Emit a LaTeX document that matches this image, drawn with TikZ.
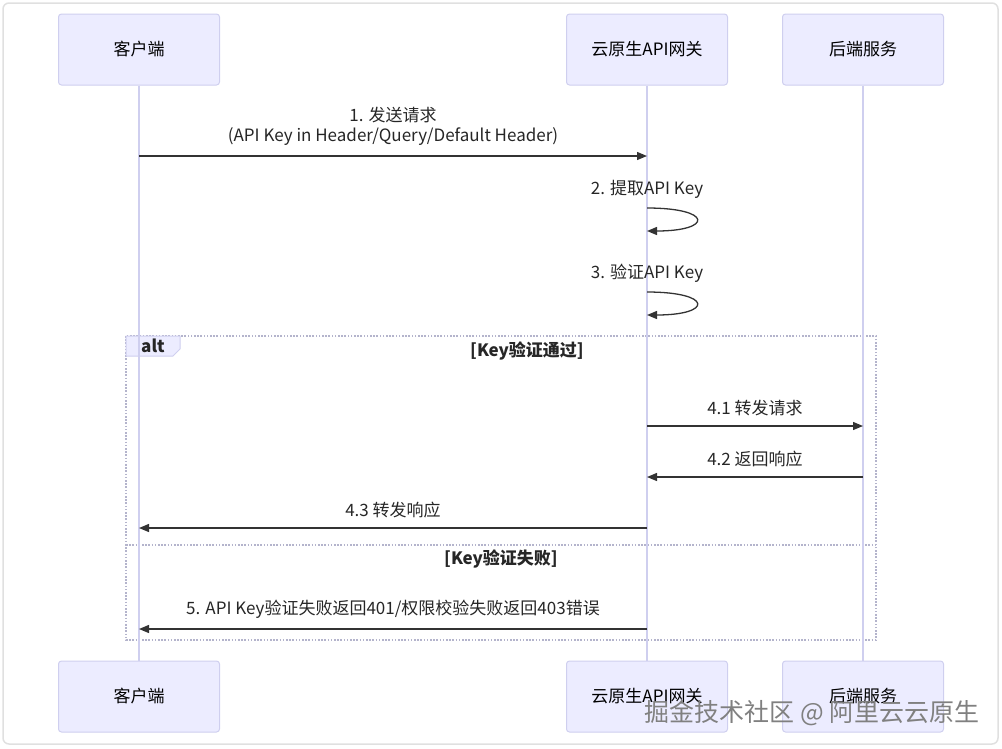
\documentclass[tikz,border=0pt]{standalone}
\usepackage{fontspec}
\setmainfont{Noto Sans CJK SC}
\usepackage{xcolor}
\usepackage{tikz}
\usetikzlibrary{positioning, arrows.meta}
\definecolor{actorfill}{HTML}{ECECFF}
\definecolor{actorline}{HTML}{CFCFEF}
\definecolor{msgline}{HTML}{333333}
\definecolor{altline}{HTML}{B4B4CC}

\begin{document}
\begin{tikzpicture}[
				x=1pt, y=-1pt,
				>={Triangle[length=10pt, width=8pt]},
				font=\fontsize{17}{20}\selectfont,
				actor/.style={draw=actorline, fill=actorfill, line width=1pt, rounded corners=3pt,
					minimum width=161pt, minimum height=71pt},
				lifeline/.style={draw=actorline, line width=1.6pt},
				msg/.style={->, draw=msgline, line width=1.3pt},
				msglabel/.style={above, inner sep=0pt, yshift=9.5pt, align=center, text=black!85},
				altbox/.style={draw=altline, line width=1.1pt, dash pattern=on 1.6pt off 1.6pt},
				guard/.style={font=\fontsize{17}{20}\selectfont\bfseries, text=black!85}]

			\useasboundingbox (0,0) rectangle (1002,748);
			\draw[draw=black!12, line width=1.5pt, rounded corners=6pt] (3,3) rectangle (998,744);

			% actors
			\node[actor] (clientTop) at (139,49.5) {客户端};
			\node[actor, right of=clientTop, node distance=508pt] (gwTop) {云原生API网关};
			\node[actor, right of=gwTop, node distance=216pt] (backTop) {后端服务};
			\node[actor, below of=clientTop, node distance=647pt] (clientBot) {客户端};
			\node[actor, below of=gwTop, node distance=647pt] (gwBot) {云原生API网关};
			\node[actor, below of=backTop, node distance=647pt] (backBot) {后端服务};

			% alt frame
			\draw[altbox] (126,336) rectangle (876,640);
			\draw[altbox] (126,545) -- (876,545);
			\draw[fill=actorfill, draw=actorline, line width=1pt] (126,336) -- (180,336) -- (180,349) -- (173,356) -- (126,356) -- cycle;
			\node[guard] (altTag) at (153,346) {alt};
			\node[guard] (passGuard) at (527,351) {[Key验证通过]};
			\node[guard] (failGuard) at (501,559) {[Key验证失败]};

			\draw[lifeline] (clientTop) -- (clientBot);
			\draw[lifeline] (gwTop) -- (gwBot);
			\draw[lifeline] (backTop) -- (backBot);

			% rows
			\coordinate (r1) at (0,156);
			\coordinate (r2) at (0,208);
			\coordinate (r2e) at (0,231);
			\coordinate (r3) at (0,292);
			\coordinate (r3e) at (0,315);
			\coordinate (r41) at (0,426);
			\coordinate (r42) at (0,477);
			\coordinate (r43) at (0,528);
			\coordinate (r5) at (0,629);

			% messages
			\draw[msg] (clientTop |- r1) -- (gwTop |- r1)
				node[msglabel, midway] {1. 发送请求\\(API Key in Header/Query/Default Header)};
			\draw[msg] (gwTop |- r2) .. controls +(66,0) and +(66,0) .. (gwTop |- r2e);
			\node[msglabel] (lab2) at (gwTop |- r2) {2. 提取API Key};
			\draw[msg] (gwTop |- r3) .. controls +(66,0) and +(66,0) .. (gwTop |- r3e);
			\node[msglabel] (lab3) at (gwTop |- r3) {3. 验证API Key};
			\draw[msg] (gwTop |- r41) -- (backTop |- r41) node[msglabel, midway] {4.1 转发请求};
			\draw[msg] (backTop |- r42) -- (gwTop |- r42) node[msglabel, midway] {4.2 返回响应};
			\draw[msg] (gwTop |- r43) -- (clientTop |- r43) node[msglabel, midway] {4.3 转发响应};
			\draw[msg] (gwTop |- r5) -- (clientTop |- r5)
				node[msglabel, midway] {5. API Key验证失败返回401/权限校验失败返回403错误};

			% watermark
			\node[font=\fontsize{25}{28}\selectfont, text=black!50] (mark) at (812,713)
				{掘金技术社区 @ 阿里云云原生};
		\end{tikzpicture}
\end{document}
